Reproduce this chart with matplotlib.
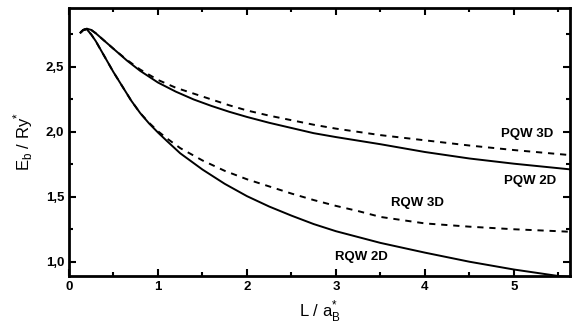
import matplotlib
matplotlib.use("Agg")
import matplotlib.pyplot as plt
from matplotlib.ticker import MultipleLocator, FuncFormatter

# PQW curves (upper pair)
x_pqw = [0.13, 0.16, 0.2, 0.25, 0.3, 0.4, 0.5, 0.65, 0.8, 1.0, 1.2, 1.4, 1.6, 1.8, 2.0,
         2.25, 2.5, 2.75, 3.0, 3.5, 4.0, 4.5, 5.0, 5.65]
y_pqw_2d = [2.765, 2.785, 2.795, 2.785, 2.76, 2.70, 2.64, 2.55, 2.47, 2.38, 2.31, 2.25, 2.20, 2.155, 2.115,
            2.07, 2.03, 1.99, 1.96, 1.905, 1.845, 1.795, 1.755, 1.71]
y_pqw_3d = [2.765, 2.785, 2.795, 2.785, 2.76, 2.70, 2.64, 2.555, 2.48, 2.40, 2.34, 2.295, 2.25, 2.205, 2.165,
            2.125, 2.09, 2.055, 2.025, 1.975, 1.935, 1.895, 1.86, 1.82]

# RQW curves (lower pair)
x_rqw = [0.13, 0.16, 0.2, 0.25, 0.3, 0.4, 0.5, 0.6, 0.7, 0.8, 0.9, 1.0, 1.1, 1.25, 1.5, 1.75,
         2.0, 2.25, 2.5, 2.75, 3.0, 3.25, 3.5, 4.0, 4.5, 5.0, 5.5, 5.65]
y_rqw_2d = [2.765, 2.785, 2.79, 2.75, 2.70, 2.58, 2.46, 2.35, 2.24, 2.145, 2.065, 1.995, 1.93, 1.835, 1.71, 1.60,
            1.505, 1.425, 1.355, 1.29, 1.235, 1.19, 1.145, 1.07, 1.00, 0.94, 0.89, 0.88]
y_rqw_3d = [2.765, 2.785, 2.79, 2.75, 2.70, 2.58, 2.46, 2.35, 2.24, 2.145, 2.07, 2.005, 1.95, 1.875, 1.78, 1.70,
            1.635, 1.58, 1.525, 1.475, 1.43, 1.39, 1.345, 1.295, 1.27, 1.25, 1.235, 1.23]

labels = ["PQW 3D", "PQW 2D", "RQW 3D", "RQW 2D"]
label_pos = [(5.15, 1.985), (5.18, 1.62), (3.92, 1.45), (3.29, 1.04)]

plt.rcParams['font.family'] = ['Liberation Sans', 'DejaVu Sans']

fig = plt.figure(figsize=(5.72, 3.28), dpi=100)
ax = fig.add_axes([0.1206, 0.1585, 0.8759, 0.8171])

dash = (0, (3.2, 3.0))
ax.plot(x_pqw, y_pqw_2d, color='black', lw=1.4)
ax.plot(x_pqw, y_pqw_3d, color='black', lw=1.4, linestyle=dash)
ax.plot(x_rqw, y_rqw_2d, color='black', lw=1.4)
ax.plot(x_rqw, y_rqw_3d, color='black', lw=1.4, linestyle=dash)

for txt, (tx, ty) in zip(labels, label_pos):
    ax.text(tx, ty, txt, ha='center', va='center', fontsize=9.5, fontweight='bold')

ax.set_xlim(0, 5.63)
ax.set_ylim(0.89, 2.954)

ax.xaxis.set_major_locator(MultipleLocator(1))
ax.xaxis.set_minor_locator(MultipleLocator(0.5))
ax.yaxis.set_major_locator(MultipleLocator(0.5))
ax.yaxis.set_minor_locator(MultipleLocator(0.25))
ax.yaxis.set_major_formatter(FuncFormatter(lambda v, p: f"{v:.1f}".replace('.', ',')))

ax.tick_params(which='both', direction='in', top=True, right=True, width=1.5)
ax.tick_params(which='major', length=5, labelsize=9.5)
ax.tick_params(which='minor', length=3)
for lab in ax.get_xticklabels() + ax.get_yticklabels():
    lab.set_fontweight('bold')
for sp in ax.spines.values():
    sp.set_linewidth(2)

ax.set_xlabel(r'L / a$_\mathregular{B}^\mathregular{*}$', fontsize=12, labelpad=4)
ax.set_ylabel(r'E$_\mathregular{b}$ / Ry$^\mathregular{*}$', fontsize=12, labelpad=8)

fig.savefig('out.png', dpi=100)
